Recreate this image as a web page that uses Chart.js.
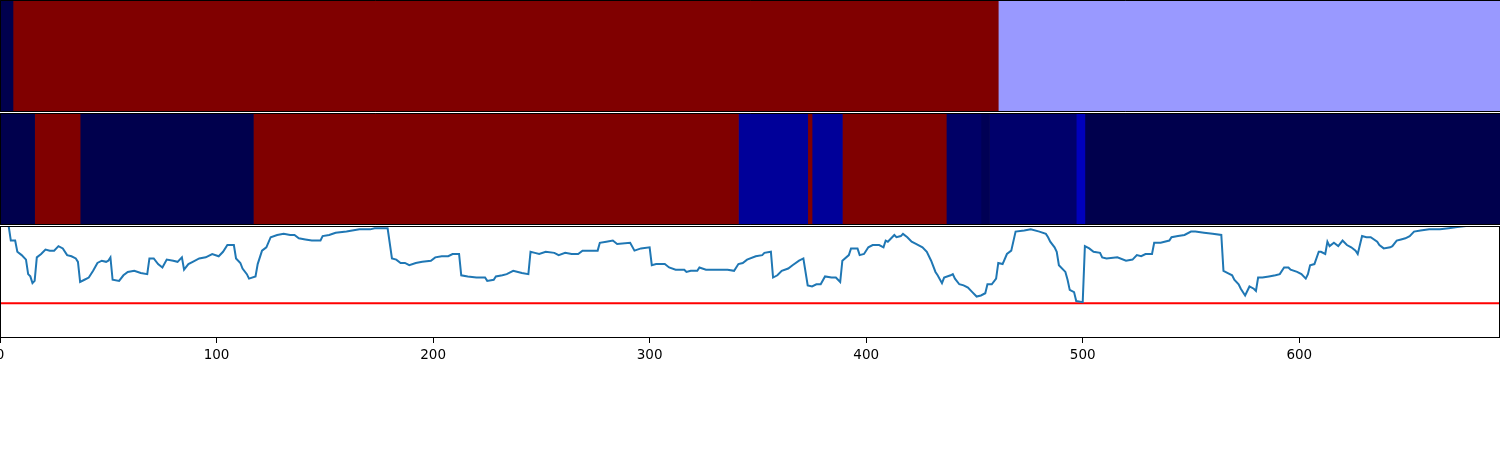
<!DOCTYPE html>
<html>
<head>
<meta charset="utf-8">
<script src="https://cdn.jsdelivr.net/npm/chart.js@4/dist/chart.umd.min.js"></script>
<style>
  html, body { margin: 0; padding: 0; background: #fff; overflow: hidden; }
  body { width: 1500px; height: 450px; position: relative; }
  canvas { position: absolute; }
</style>
</head>
<body>
<canvas id="bandTop" width="1501" height="112" style="left:0;top:0"></canvas>
<canvas id="bandMid" width="1501" height="112" style="left:0;top:113px"></canvas>
<canvas id="trace" width="1560" height="152" style="left:-30px;top:226px"></canvas>
<script>
// x range shared by the three panels
const xMin = 0;
const xMax = 692.7;
const tickValues = [0, 100, 200, 300, 400, 500, 600];

// heatmap rows: segment bounds and the value coloured by a seismic map
const topStarts = [0, 6, 461];
const topEnds = [6, 461, 692.7];
const topValues = [0, 1, 0.4];

const midStarts = [0, 16, 37, 117, 341, 373, 375, 389, 437, 453, 457, 497, 501];
const midEnds = [16, 37, 117, 341, 373, 375, 389, 437, 453, 457, 497, 501, 692.7];
const midValues = [0, 1, 0, 1, 0.107, 1, 0.107, 1, 0.036, 0.01, 0.043, 0.155, 0];

// line panel
const lineX = [0, 4, 5, 7, 8, 10, 12, 13, 14, 15, 16, 17, 19, 21, 23, 25, 27, 29, 31, 33, 35, 36, 37, 39, 41, 43, 45, 47, 49, 50,
  51, 52, 55, 57, 59, 62, 65, 68, 69, 71, 73, 75, 77, 80, 82, 84, 85, 87, 89, 92, 95, 98, 101, 103, 105, 108, 109, 111, 112, 114,
  115, 118, 119, 121, 123, 125, 128, 131, 134, 136, 138, 141, 144, 148, 149, 152, 155, 160, 166, 171, 173, 179, 181, 183, 185, 187, 189, 192, 195, 199,
  201, 204, 207, 209, 212, 213, 216, 220, 224, 225, 228, 229, 232, 234, 237, 241, 244, 245, 247, 249, 252, 256, 258, 261, 264, 267, 269, 276, 277, 280,
  283, 285, 291, 293, 296, 300, 301, 303, 307, 309, 312, 316, 317, 319, 322, 323, 326, 332, 336, 339, 341, 343, 345, 349, 352, 353, 356, 357, 359, 361,
  364, 366, 369, 371, 373, 375, 377, 379, 381, 384, 386, 388, 389, 392, 393, 396, 397, 399, 401, 403, 406, 408, 409, 410, 411, 413, 414, 416, 417, 419,
  421, 423, 426, 428, 430, 432, 433, 435, 436, 439, 440, 441, 443, 445, 447, 449, 451, 453, 455, 456, 458, 460, 461, 463, 465, 467, 469, 473, 476, 480,
  483, 484, 485, 487, 488, 489, 492, 493, 494, 496, 497, 500, 501, 503, 505, 508, 509, 511, 516, 520, 523, 525, 527, 529, 532, 533, 536, 540, 541, 544,
  547, 550, 552, 556, 560, 564, 565, 567, 569, 570, 572, 573, 575, 577, 579, 580, 581, 583, 586, 589, 591, 593, 595, 596, 599, 601, 603, 604, 605, 607,
  609, 610, 612, 613, 614, 616, 618, 620, 622, 624, 626, 627, 629, 631, 633, 636, 637, 639, 642, 643, 645, 647, 649, 651, 653, 656, 660, 665, 669, 673,
  677, 692];
const lineY = [1.10, 1.00, 0.87, 0.87, 0.77, 0.74, 0.70, 0.57, 0.55, 0.49, 0.51, 0.72, 0.75, 0.79, 0.78, 0.78, 0.82, 0.80, 0.74, 0.73, 0.71, 0.68, 0.50, 0.52, 0.54, 0.60, 0.67, 0.69, 0.68, 0.69,
  0.72, 0.52, 0.51, 0.56, 0.59, 0.60, 0.58, 0.57, 0.71, 0.71, 0.66, 0.63, 0.70, 0.69, 0.68, 0.72, 0.61, 0.66, 0.68, 0.71, 0.72, 0.75, 0.73, 0.77, 0.83, 0.83, 0.71, 0.67, 0.62, 0.57,
  0.53, 0.55, 0.66, 0.78, 0.81, 0.90, 0.92, 0.93, 0.92, 0.92, 0.89, 0.88, 0.87, 0.87, 0.91, 0.92, 0.94, 0.95, 0.97, 0.97, 0.98, 0.98, 0.71, 0.70, 0.67, 0.67, 0.65, 0.67, 0.68, 0.69,
  0.72, 0.73, 0.73, 0.75, 0.75, 0.56, 0.55, 0.54, 0.54, 0.51, 0.52, 0.55, 0.56, 0.57, 0.60, 0.58, 0.57, 0.77, 0.76, 0.75, 0.77, 0.76, 0.74, 0.76, 0.75, 0.75, 0.78, 0.78, 0.85, 0.86,
  0.87, 0.84, 0.85, 0.78, 0.80, 0.81, 0.65, 0.66, 0.66, 0.63, 0.61, 0.61, 0.59, 0.60, 0.60, 0.63, 0.61, 0.61, 0.61, 0.60, 0.66, 0.67, 0.70, 0.73, 0.74, 0.76, 0.77, 0.54, 0.56, 0.60,
  0.62, 0.65, 0.69, 0.71, 0.47, 0.46, 0.48, 0.48, 0.55, 0.54, 0.54, 0.50, 0.69, 0.74, 0.80, 0.80, 0.74, 0.75, 0.81, 0.83, 0.83, 0.81, 0.87, 0.86, 0.88, 0.92, 0.90, 0.91, 0.93, 0.90,
  0.86, 0.84, 0.81, 0.77, 0.69, 0.59, 0.56, 0.49, 0.54, 0.56, 0.57, 0.53, 0.48, 0.47, 0.45, 0.41, 0.37, 0.38, 0.40, 0.48, 0.48, 0.53, 0.67, 0.66, 0.75, 0.78, 0.95, 0.96, 0.97, 0.95,
  0.93, 0.90, 0.86, 0.81, 0.77, 0.65, 0.59, 0.52, 0.43, 0.41, 0.33, 0.32, 0.82, 0.80, 0.77, 0.76, 0.72, 0.71, 0.72, 0.69, 0.70, 0.74, 0.73, 0.75, 0.75, 0.85, 0.85, 0.87, 0.90, 0.91,
  0.92, 0.95, 0.95, 0.94, 0.93, 0.92, 0.60, 0.58, 0.56, 0.52, 0.48, 0.44, 0.38, 0.46, 0.44, 0.42, 0.54, 0.54, 0.55, 0.56, 0.57, 0.63, 0.63, 0.61, 0.59, 0.57, 0.53, 0.57, 0.65, 0.66,
  0.77, 0.77, 0.75, 0.86, 0.82, 0.85, 0.82, 0.87, 0.83, 0.81, 0.78, 0.75, 0.91, 0.90, 0.90, 0.86, 0.83, 0.80, 0.81, 0.82, 0.87, 0.88, 0.89, 0.91, 0.95, 0.96, 0.97, 0.97, 0.98, 0.99,
  1.00, 1.00];
const thresholdValue = 0.31;

// matplotlib "seismic" colormap
function seismic(v) {
  const stops = [
    [0.0, 0.0, 0.0, 0.3],
    [0.25, 0.0, 0.0, 1.0],
    [0.5, 1.0, 1.0, 1.0],
    [0.75, 1.0, 0.0, 0.0],
    [1.0, 0.5, 0.0, 0.0],
  ];
  for (let i = 1; i < stops.length; i++) {
    if (v <= stops[i][0]) {
      const a = stops[i - 1], b = stops[i];
      const t = (v - a[0]) / (b[0] - a[0]);
      const c = [1, 2, 3].map((k) => Math.round((a[k] + (b[k] - a[k]) * t) * 255));
      return "rgb(" + c.join(",") + ")";
    }
  }
  return "rgb(127,0,0)";
}

const framePlugin = {
  id: "frame",
  afterDraw(chart) {
    const a = chart.chartArea;
    const ctx = chart.ctx;
    ctx.save();
    ctx.strokeStyle = "#000";
    ctx.lineWidth = 1;
    ctx.strokeRect(a.left + 0.5, a.top + 0.5, a.width - 1, a.height - 1);
    ctx.restore();
  },
};

function bandChart(id, starts, ends, values) {
  const datasets = starts.map((s, i) => ({
    data: [[s, ends[i]]],
    backgroundColor: seismic(values[i]),
    borderWidth: 0,
    grouped: false,
    barPercentage: 1,
    categoryPercentage: 1,
  }));
  return new Chart(document.getElementById(id), {
    type: "bar",
    data: { labels: [""], datasets },
    options: {
      indexAxis: "y",
      responsive: false,
      animation: false,
      layout: { padding: { left: 0, right: 1, top: 0, bottom: 0 } },
      plugins: { legend: { display: false }, tooltip: { enabled: false } },
      scales: {
        x: { type: "linear", min: xMin, max: xMax, display: false },
        y: { display: false },
      },
    },
    plugins: [{
      id: "bandFrame",
      afterDraw(chart) {
        const a = chart.chartArea;
        const ctx = chart.ctx;
        ctx.save();
        ctx.strokeStyle = "#000";
        ctx.lineWidth = 1;
        ctx.beginPath();
        ctx.moveTo(a.right + 1, a.top + 0.5);
        ctx.lineTo(a.left + 0.5, a.top + 0.5);
        ctx.lineTo(a.left + 0.5, a.bottom - 0.5);
        ctx.lineTo(a.right + 1, a.bottom - 0.5);
        ctx.stroke();
        ctx.restore();
      },
    }],
  });
}

bandChart("bandTop", topStarts, topEnds, topValues);
bandChart("bandMid", midStarts, midEnds, midValues);

new Chart(document.getElementById("trace"), {
  type: "line",
  data: {
    datasets: [
      {
        data: lineX.map((x, i) => ({ x, y: lineY[i] })),
        borderColor: "#1f77b4",
        borderWidth: 2,
        pointRadius: 0,
        tension: 0,
      },
      {
        data: [{ x: xMin, y: thresholdValue }, { x: xMax, y: thresholdValue }],
        borderColor: "#ff0000",
        borderWidth: 2,
        pointRadius: 0,
      },
    ],
  },
  options: {
    responsive: false,
    animation: false,
    layout: { padding: { left: 30, right: 30, top: 0, bottom: 0 } },
    plugins: { legend: { display: false }, tooltip: { enabled: false } },
    scales: {
      x: {
        type: "linear",
        min: xMin,
        max: xMax,
        afterBuildTicks: (scale) => {
          scale.ticks = tickValues.map((v) => ({ value: v }));
        },
        afterFit: (scale) => {
          scale.height = 40;
        },
        grid: { display: true, drawOnChartArea: false, drawTicks: true, tickLength: 5, color: "#000" },
        border: { display: false },
        ticks: {
          color: "#000",
          padding: 4,
          maxRotation: 0,
          font: { family: "DejaVu Sans", size: 13.5 },
        },
      },
      y: { min: 0, max: 1, display: false },
    },
  },
  plugins: [framePlugin],
});
</script>
</body>
</html>
